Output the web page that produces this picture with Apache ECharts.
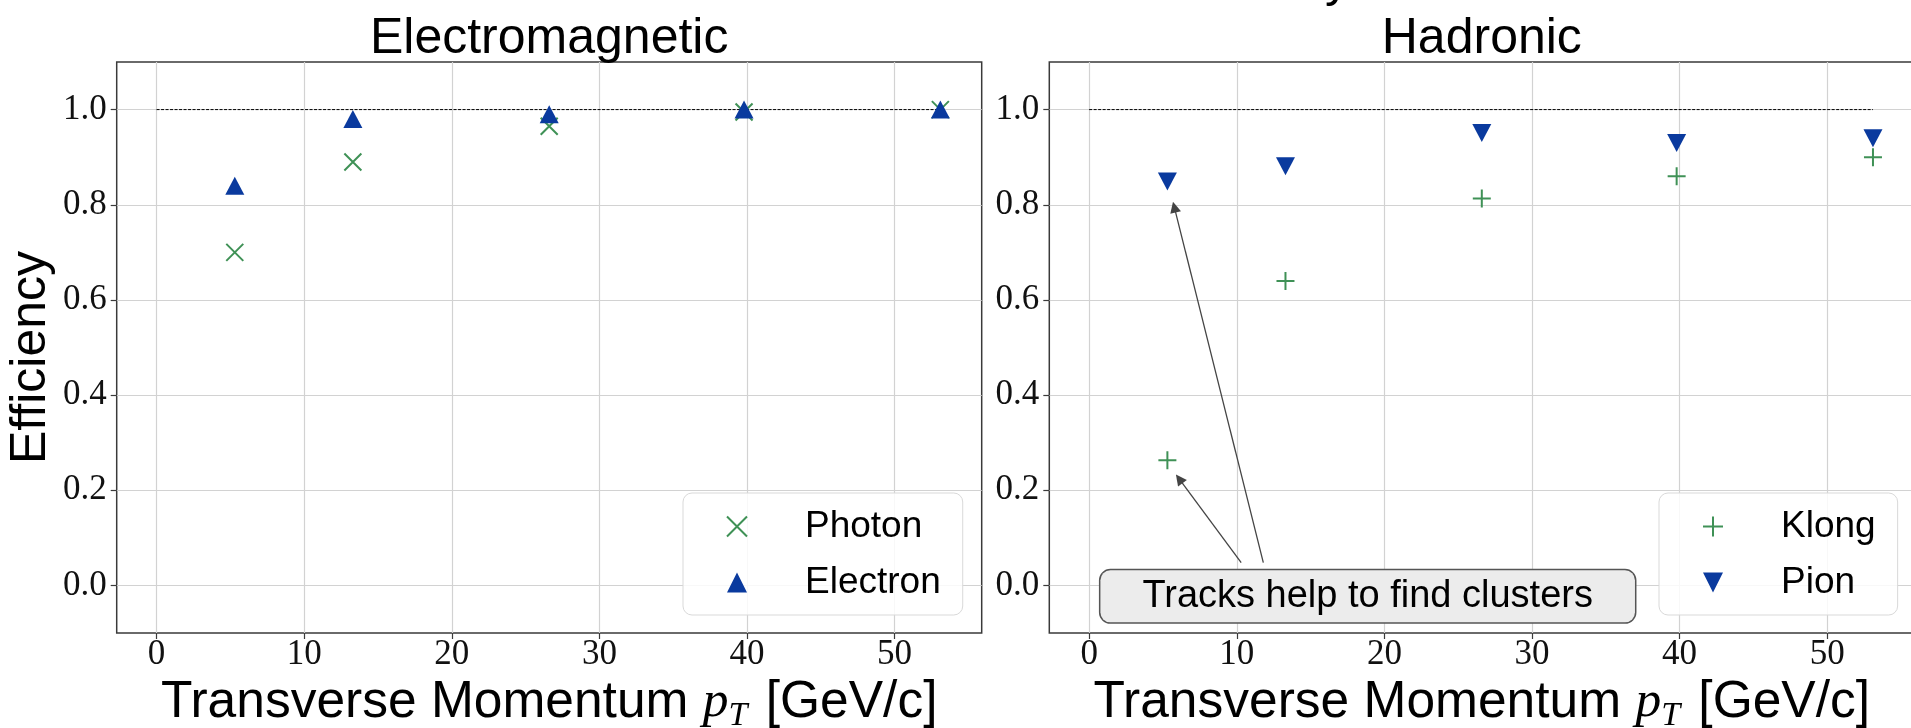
<!DOCTYPE html>
<html><head><meta charset="utf-8">
<script src="https://cdn.jsdelivr.net/npm/echarts@6/dist/echarts.min.js"></script>
<style>html,body{margin:0;padding:0;background:#fff}#c{width:1911px;height:728px}</style>
</head><body><div id="c"></div>
<script>
// ---- data ----
const pT = [5.3, 13.3, 26.6, 39.8, 53.1];
const photon = [0.70, 0.89, 0.965, 0.995, 1.0];
const electron = [0.84, 0.98, 0.99, 1.0, 1.0];
const klong = [0.263, 0.64, 0.813, 0.86, 0.90];
const pion = [0.849, 0.881, 0.951, 0.93, 0.94];
const refLineX = [0, 53.1];
const refLineY = 1.0;
const xTicks = [0, 10, 20, 30, 40, 50];
const yTicks = [0, 0.2, 0.4, 0.6, 0.8, 1.0];
const panelTitles = ['Electromagnetic', 'Hadronic'];
const suptitle = 'Efficiency';
const yLabel = 'Efficiency';
const annotationText = 'Tracks help to find clusters';
const annotationAt = [18.87, -0.023];
const arrowStarts = [[10.3, 0.048], [11.8, 0.048]];
const arrowEnds = [[6.1, 0.224], [5.77, 0.795]];

// ---- style ----
const GREEN = '#3f9156', BLUE = '#0a3a9e';
const FRAME = '#3a3a3a', GRIDC = '#d2d2d2';
const SANS = 'Liberation Sans', SERIF = 'Liberation Serif';
const xSym = 'path://M0,0L10,10M10,0L0,10';
const plusSym = 'path://M5,0L5,10M0,5L10,5';
const downTri = 'path://M0,0L10,0L5,10Z';
const GL = [116.7, 1049.3], GT = 62, GW = 865, GH = 571;

const chart = echarts.init(document.getElementById('c'));

function mkX(i) {
  return {
    type: 'value', gridIndex: i, min: -2.7, max: 55.9,
    axisLine: {show: false, onZero: false},
    axisTick: {show: true, inside: false, length: 6, customValues: xTicks, lineStyle: {color: FRAME, width: 1.2}},
    axisLabel: {customValues: xTicks, fontFamily: SERIF, fontSize: 35, color: '#111', margin: 4},
    splitLine: {show: true, lineStyle: {color: GRIDC, width: 1.2}},
    name: '{a|Transverse Momentum }{p|p}{s|T}{a| [GeV/c]}',
    nameLocation: 'middle', nameGap: 34,
    nameTextStyle: {
      rich: {
        a: {fontFamily: SANS, fontSize: 51.5, color: '#000', lineHeight: 60},
        p: {fontFamily: SERIF, fontStyle: 'italic', fontSize: 51.5, color: '#000', lineHeight: 60},
        s: {fontFamily: SERIF, fontStyle: 'italic', fontSize: 34, color: '#000', lineHeight: 60, verticalAlign: 'bottom', padding: [0, 4, 0, 0]}
      }
    }
  };
}
function mkY(i) {
  const o = {
    type: 'value', gridIndex: i, min: -0.1, max: 1.1,
    axisLine: {show: false, onZero: false},
    axisTick: {show: true, inside: false, length: 6, customValues: yTicks, lineStyle: {color: FRAME, width: 1.2}},
    axisLabel: {customValues: yTicks, fontFamily: SERIF, fontSize: 35, color: '#111', margin: 10,
      formatter: v => Number(v).toFixed(1)},
    splitLine: {show: true, lineStyle: {color: GRIDC, width: 1.2}}
  };
  if (i === 0) {
    o.name = yLabel; o.nameLocation = 'middle'; o.nameGap = 60;
    o.nameTextStyle = {fontFamily: SANS, fontSize: 50, color: '#000', padding: [0, 20, 0, 0]};
  }
  return o;
}
function refLine(i) {
  return {type: 'line', xAxisIndex: i, yAxisIndex: i, data: refLineX.map(x => [x, refLineY]),
    symbol: 'none', silent: true, z: 2, lineStyle: {color: '#000', width: 1, type: [3, 1.5]}};
}
function scat(name, i, ys, sym, size, style) {
  return {name, type: 'scatter', xAxisIndex: i, yAxisIndex: i, data: pT.map((x, k) => [x, ys[k]]),
    symbol: sym, symbolSize: size, itemStyle: Object.assign({opacity: 1}, style), z: 3,
    emphasis: {disabled: true}};
}
const lineStyleX = {color: 'rgba(0,0,0,0)', borderColor: GREEN, borderWidth: 2};
function legendCfg(names, left) {
  return {
    data: names, orient: 'vertical', left: left, top: 493,
    itemWidth: 20, itemHeight: 20, itemGap: 19,
    padding: [15, 22, 14, 43],
    backgroundColor: 'rgba(255,255,255,0.85)', borderColor: '#d9d9d9', borderWidth: 1, borderRadius: 9,
    formatter: '{t|{name}}',
    textStyle: {rich: {t: {fontFamily: SANS, fontSize: 37, color: '#000', lineHeight: 42, padding: [0, 0, 0, 53]}}}
  };
}

chart.setOption({
  animation: false,
  backgroundColor: '#fff',
  grid: [0, 1].map(i => ({left: GL[i], top: GT, width: GW, height: GH, show: true, outerBoundsMode: 'none',
    containLabel: false, borderColor: FRAME, borderWidth: 1.5, backgroundColor: '#fff'})),
  xAxis: [mkX(0), mkX(1)],
  yAxis: [mkY(0), mkY(1)],
  legend: [legendCfg(['Photon', 'Electron'], 683), legendCfg(['Klong', 'Pion'], 1659)],
  series: [
    refLine(0), refLine(1),
    scat('Photon', 0, photon, xSym, 17, lineStyleX),
    scat('Electron', 0, electron, 'triangle', [19, 18], {color: BLUE}),
    scat('Klong', 1, klong, plusSym, 18, lineStyleX),
    scat('Pion', 1, pion, downTri, [19, 18], {color: BLUE}),
    {type: 'lines', coordinateSystem: 'cartesian2d', xAxisIndex: 1, yAxisIndex: 1, z: 4, silent: true,
      symbol: ['none', 'triangle'], symbolSize: [0, 11],
      lineStyle: {color: '#444', width: 1.3, opacity: 1},
      data: arrowStarts.map((s, k) => ({coords: [s, arrowEnds[k]]}))}
  ]
});

const ap = chart.convertToPixel({xAxisIndex: 1, yAxisIndex: 1}, annotationAt);
chart.setOption({
  graphic: [
    {type: 'text', x: GL[0] + GW / 2, y: 39, z: 10,
      style: {text: panelTitles[0], font: '50px "Liberation Sans"', fill: '#000', align: 'center', verticalAlign: 'middle'}},
    {type: 'text', x: GL[1] + GW / 2, y: 39, z: 10,
      style: {text: panelTitles[1], font: '50px "Liberation Sans"', fill: '#000', align: 'center', verticalAlign: 'middle'}},
    {type: 'text', x: 1350, y: -18, z: 10,
      style: {text: suptitle, font: '50px "Liberation Sans"', fill: '#000', align: 'right', verticalAlign: 'middle'}},
    {type: 'text', x: ap[0], y: ap[1], z: 20,
      style: {text: annotationText, font: '38px "Liberation Sans"', fill: '#000', align: 'center', verticalAlign: 'middle',
        backgroundColor: '#ececec', borderColor: '#555', borderWidth: 1.5, borderRadius: 10, padding: [7, 42, 7, 42]}}
  ]
});
</script>
</body></html>
